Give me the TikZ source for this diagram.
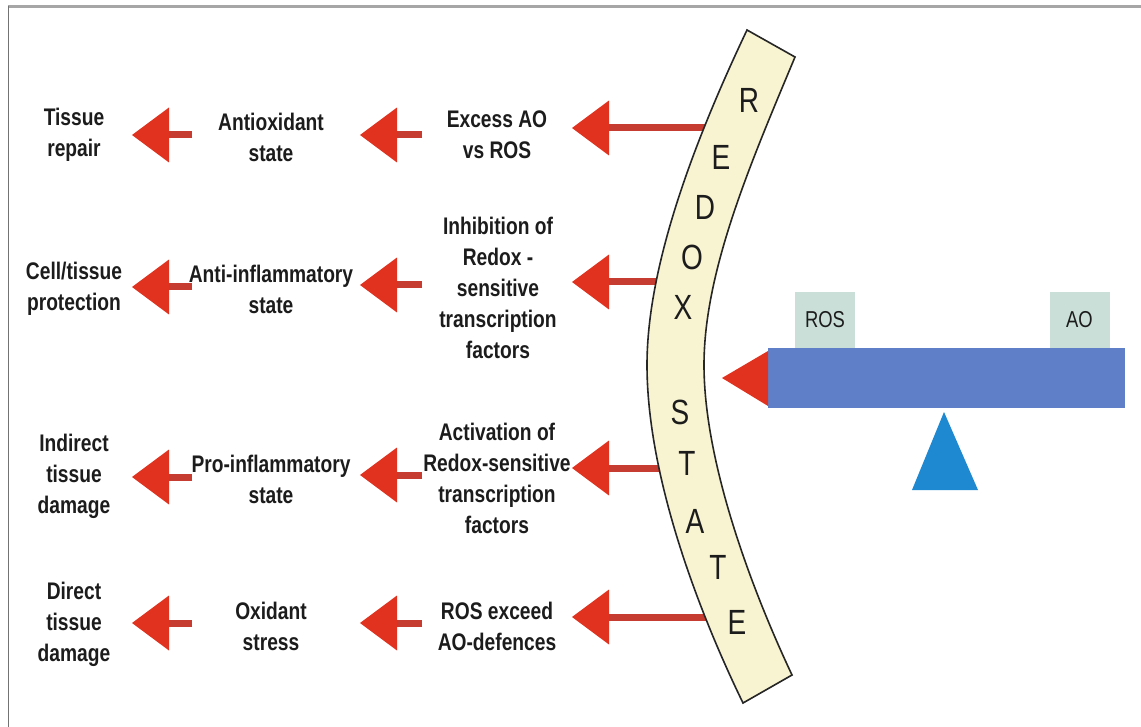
\documentclass[tikz,border=0pt]{standalone}
\usepackage{fontspec}
\setmainfont{Liberation Sans}
\newfontfamily\nar[FakeStretch=0.8]{Liberation Sans}
\usetikzlibrary{arrows.meta}
\definecolor{headred}{HTML}{E0321E}
\definecolor{shaftred}{HTML}{C63C30}
\definecolor{txt}{HTML}{1C1C1C}
\definecolor{bandfill}{HTML}{F8F3D0}
\definecolor{beamblue}{HTML}{5F80C8}
\definecolor{boxteal}{HTML}{C9DFD8}
\definecolor{triblue}{HTML}{1E88D0}
\tikzset{
  lbl/.style={font=\nar\bfseries\fontsize{24}{31}\selectfont, align=center, text=txt, inner sep=0pt},
  bandletter/.style={font=\nar\fontsize{35}{35}\selectfont, text=txt, inner sep=0pt},
  boxlbl/.style={fill=boxteal, font=\nar\fontsize{23}{23}\selectfont, text=txt, inner sep=0pt, minimum width=60pt, minimum height=56pt},
  redarr/.style={draw=shaftred, line width=7pt,
    -{Triangle[length=37pt,width=55pt,color=headred,fill=headred,line width=0pt]}},
}
\begin{document}
\begin{tikzpicture}[x=1pt,y=-1pt]
\useasboundingbox (0,0) rectangle (1141,727);
\fill[white] (0,0) rectangle (1141,727);
% frame
\draw[black!35, line width=3pt] (8,6.5) -- (1141,6.5);
\draw[black!55, line width=1pt] (8.5,6.5) -- (8.5,727);

% text columns
\node[lbl] (c1r1) at (74,135) {Tissue\\repair};
\node[lbl] (c1r2) at (74,289) {Cell/tissue\\protection};
\node[lbl] (c1r3) at (74,476) {Indirect\\tissue\\damage};
\node[lbl] (c1r4) at (74,624) {Direct\\tissue\\damage};

\node[lbl] (c2r1) at (271,137) {Antioxidant\\state};
\node[lbl] (c2r2) at (271,289) {Anti-inflammatory\\state};
\node[lbl] (c2r3) at (271,479) {Pro-inflammatory\\state};
\node[lbl] (c2r4) at (271,626) {Oxidant\\stress};

\node[lbl] (c3r1) at (497,135) {Excess AO\\vs ROS};
\node[lbl] (c3r2) at (498,288) {Inhibition of\\Redox -\\sensitive\\transcription\\factors};
\node[lbl] (c3r3) at (497,478) {Activation of\\Redox-sensitive\\transcription\\factors};
\node[lbl] (c3r4) at (497,626) {ROS exceed\\AO-defences};

% arrow end points
\coordinate (l1s) at (192,135); \coordinate (l1t) at (132,135);
\coordinate (l2s) at (192,287); \coordinate (l2t) at (132,287);
\coordinate (l3s) at (192,477); \coordinate (l3t) at (132,477);
\coordinate (l4s) at (192,623); \coordinate (l4t) at (132,623);
\coordinate (m1s) at (422,135); \coordinate (m1t) at (360,135);
\coordinate (m2s) at (422,285); \coordinate (m2t) at (360,285);
\coordinate (m3s) at (422,475); \coordinate (m3t) at (360,475);
\coordinate (m4s) at (422,623); \coordinate (m4t) at (360,623);
\coordinate (r1s) at (712,128); \coordinate (r1t) at (572,128);
\coordinate (r2s) at (660,282); \coordinate (r2t) at (572,282);
\coordinate (r3s) at (665,468); \coordinate (r3t) at (572,468);
\coordinate (r4s) at (712,617); \coordinate (r4t) at (572,617);

\foreach \r in {1,2,3,4}{
  \draw[redarr] (l\r s) -- (l\r t);
  \draw[redarr] (m\r s) -- (m\r t);
  \draw[redarr] (r\r s) -- (r\r t);
}

% REDOX STATE band
\draw[fill=bandfill, draw=black!85, line width=1.6pt, line join=miter]
  (747,30) .. controls (690,150) and (647,270) .. (647,365)
  .. controls (647,470) and (693,600) .. (743,703)
  -- (792,675)
  .. controls (745,575) and (704,455) .. (704,365)
  .. controls (704,270) and (752,160) .. (795,57)
  -- cycle;
\node[bandletter] (bR) at (749,100) {R};
\node[bandletter] (bE) at (721,157) {E};
\node[bandletter] (bD) at (705,207) {D};
\node[bandletter] (bO) at (692,257) {O};
\node[bandletter] (bX) at (683,307) {X};
\node[bandletter] (bS) at (680,412) {S};
\node[bandletter] (bT) at (687,463) {T};
\node[bandletter] (bA) at (695,521) {A};
\node[bandletter] (bT2) at (718,567) {T};
\node[bandletter] (bE2) at (737,622) {E};

% balance
\node[boxlbl] (ros) at (825,320) {ROS};
\node[boxlbl] (ao) at (1079.5,320) {AO};
\fill[beamblue] (768,348) rectangle (1125,408);
\fill[headred] (722,378) -- (768,351) -- (768,406) -- cycle;
\fill[triblue] (944,412) -- (978,490) -- (912,490) -- cycle;
\end{tikzpicture}
\end{document}
